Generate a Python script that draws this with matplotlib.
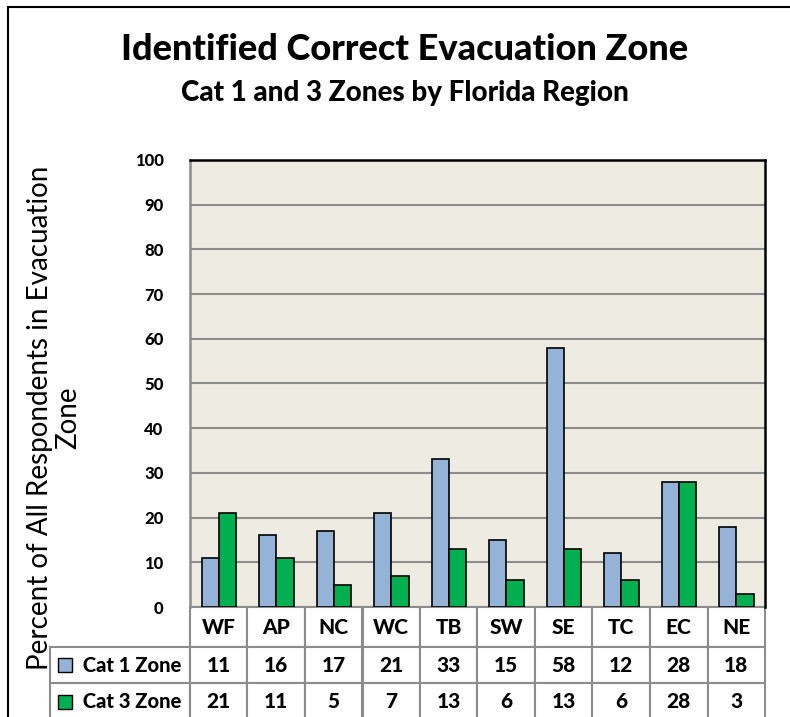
import matplotlib
matplotlib.use("Agg")
import matplotlib.pyplot as plt
import numpy as np
from matplotlib.patches import Rectangle

regions = ["WF", "AP", "NC", "WC", "TB", "SW", "SE", "TC", "EC", "NE"]
cat1_zone = [11, 16, 17, 21, 33, 15, 58, 12, 28, 18]
cat3_zone = [21, 11, 5, 7, 13, 6, 13, 6, 28, 3]
series_names = ["Cat 1 Zone", "Cat 3 Zone"]
y_ticks = [0, 10, 20, 30, 40, 50, 60, 70, 80, 90, 100]

blue = "#95B3D7"
green = "#00B050"
plot_bg = "#EEEBE3"
grid_gray = "#8C8C8C"
heavy = "black"

plt.rcParams["font.family"] = ["Lato", "DejaVu Sans"]

W, H = 790, 717
fig = plt.figure(figsize=(W / 100, H / 100), dpi=100)

# outer frame of the chart (runs off the right/bottom of the picture)
fig.patches.append(Rectangle((8 / W, -0.05), 1.0, (H - 7) / H + 0.05,
                             transform=fig.transFigure, fill=False,
                             edgecolor="black", linewidth=1.5))

# plot area in pixels: left 190, right 765, top 160, bottom 607
ax = fig.add_axes([190 / W, (H - 607) / H, 575 / W, 447 / H])
ax.set_facecolor(plot_bg)

x = np.arange(len(regions))
bw = 0.3
ax.bar(x - bw / 2, cat1_zone, bw, color=blue, edgecolor="black", linewidth=1.2, zorder=3)
ax.bar(x + bw / 2, cat3_zone, bw, color=green, edgecolor="black", linewidth=1.2, zorder=3)

ax.set_xlim(-0.5, len(regions) - 0.5)
ax.set_ylim(0, 100)
ax.set_yticks(y_ticks)
ax.yaxis.grid(True, color=grid_gray, linewidth=1.5, zorder=0)
ax.set_axisbelow(True)
ax.tick_params(axis="y", length=0, pad=19, labelsize=12)
for lbl in ax.get_yticklabels():
    lbl.set_fontweight(heavy)
ax.set_xticks([])

for side in ["top", "right"]:
    ax.spines[side].set_color("black")
    ax.spines[side].set_linewidth(1.8)
ax.spines["left"].set_color(grid_gray)
ax.spines["left"].set_linewidth(1.8)
ax.spines["bottom"].set_visible(False)

# data table under the plot
cells = [[""] + regions,
         ["     " + series_names[0]] + [str(v) for v in cat1_zone],
         ["     " + series_names[1]] + [str(v) for v in cat3_zone]]
x0 = (50 - 190) / 575
tbl = ax.table(cellText=cells, cellLoc="center",
               bbox=[x0, -(720 - 607) / 447, 1 - x0, (720 - 607) / 447])
tbl.auto_set_font_size(False)
row_h = [40, 36, 37]
for (r, c), cell in tbl.get_celld().items():
    cell.set_width(140 if c == 0 else 57.5)
    cell.set_height(row_h[r])
    cell.set_edgecolor(grid_gray)
    cell.set_linewidth(1.5)
    cell.set_facecolor("white")
    cell.get_text().set_fontsize(15)
    cell.get_text().set_fontweight(heavy)
    if c == 0:
        cell.get_text().set_fontsize(14.5)
        cell._loc = "left"
        cell.PAD = 0.02
tbl[0, 0].visible_edges = ""
tbl[0, 0].set_facecolor("none")

# legend keys inside the row-label cells
for r, col in [(1, blue), (2, green)]:
    yc = 607 + sum(row_h[:r]) + row_h[r] / 2
    fig.patches.append(Rectangle((58 / W, (H - yc - 7) / H), 14 / W, 14 / H,
                                 transform=fig.transFigure, facecolor=col,
                                 edgecolor="black", linewidth=1.0))

fig.text(405 / W, (H - 50) / H, "Identified Correct Evacuation Zone",
         ha="center", va="center", fontsize=26, fontweight=heavy)
fig.text(405 / W, (H - 93) / H, "Cat 1 and 3 Zones by Florida Region",
         ha="center", va="center", fontsize=20, fontweight=heavy)
fig.text(54 / W, (H - 418) / H, "Percent of All Respondents in Evacuation\nZone",
         ha="center", va="center", rotation=90, fontsize=20, linespacing=1.1)

fig.savefig("out.png", dpi=100)
